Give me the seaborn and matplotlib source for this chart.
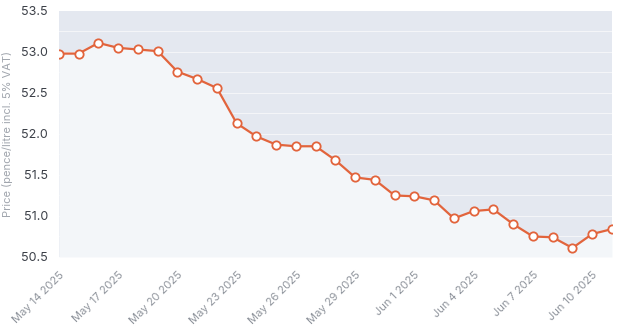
import matplotlib
matplotlib.use("Agg")
import matplotlib.pyplot as plt
import seaborn as sns
import pandas as pd

dates = pd.date_range("2025-05-14", "2025-06-11", freq="D")
prices = [52.98, 52.98, 53.11, 53.05, 53.03, 53.01, 52.76, 52.67, 52.56, 52.13,
          51.97, 51.87, 51.85, 51.85, 51.68, 51.47, 51.44, 51.25, 51.24, 51.19,
          50.97, 51.06, 51.08, 50.90, 50.75, 50.74, 50.61, 50.78, 50.84]
y_ticks = [50.5, 51.0, 51.5, 52.0, 52.5, 53.0, 53.5]
y_label = "Price (pence/litre incl. 5% VAT)"

df = pd.DataFrame({"date": dates, "price": prices})

sns.set_theme(style="white")
plt.rcParams["font.family"] = ["Inter", "DejaVu Sans"]

fig = plt.figure(figsize=(6.2, 3.32), dpi=100)
ax = fig.add_axes([0.095, 0.226, 0.892, 0.741])
ax.set_facecolor("#e4e8f0")

for v in [50.75, 51.0, 51.25, 51.5, 51.75, 52.0, 52.25, 52.5, 52.75, 53.0, 53.25]:
    ax.axhline(v, color="white", linewidth=0.8, alpha=0.6, zorder=0.5)
ax.fill_between(df["date"], df["price"], 50.5, color="#f3f6f9", zorder=1, linewidth=0)
sns.lineplot(data=df, x="date", y="price", ax=ax, color="#e2643c", linewidth=1.6,
             marker="o", markersize=6, markerfacecolor="white",
             markeredgecolor="#e2643c", markeredgewidth=1.3, zorder=3)

ax.set_ylim(50.5, 53.5)
ax.set_xlim(dates[0], dates[-1])
ax.set_yticks(y_ticks)
ax.set_yticklabels([f"{v:.1f}" for v in y_ticks])

tick_dates = pd.date_range("2025-05-14", "2025-06-10", freq="3D")
ax.set_xticks(tick_dates)
ax.set_xticklabels([f"{d.strftime('%b')} {d.day} {d.year}" for d in tick_dates],
                   rotation=45, ha="right", rotation_mode="anchor")
ax.tick_params(axis="x", labelsize=8, colors="#8f949c", length=0, pad=9)
ax.tick_params(axis="y", labelsize=9, colors="#3c4048", length=0, pad=8)
ax.set_xlabel("")
ax.set_ylabel(y_label, fontsize=8, color="#a0a5ad", labelpad=6)
for s in ax.spines.values():
    s.set_visible(False)

fig.savefig("out.png", dpi=100)
